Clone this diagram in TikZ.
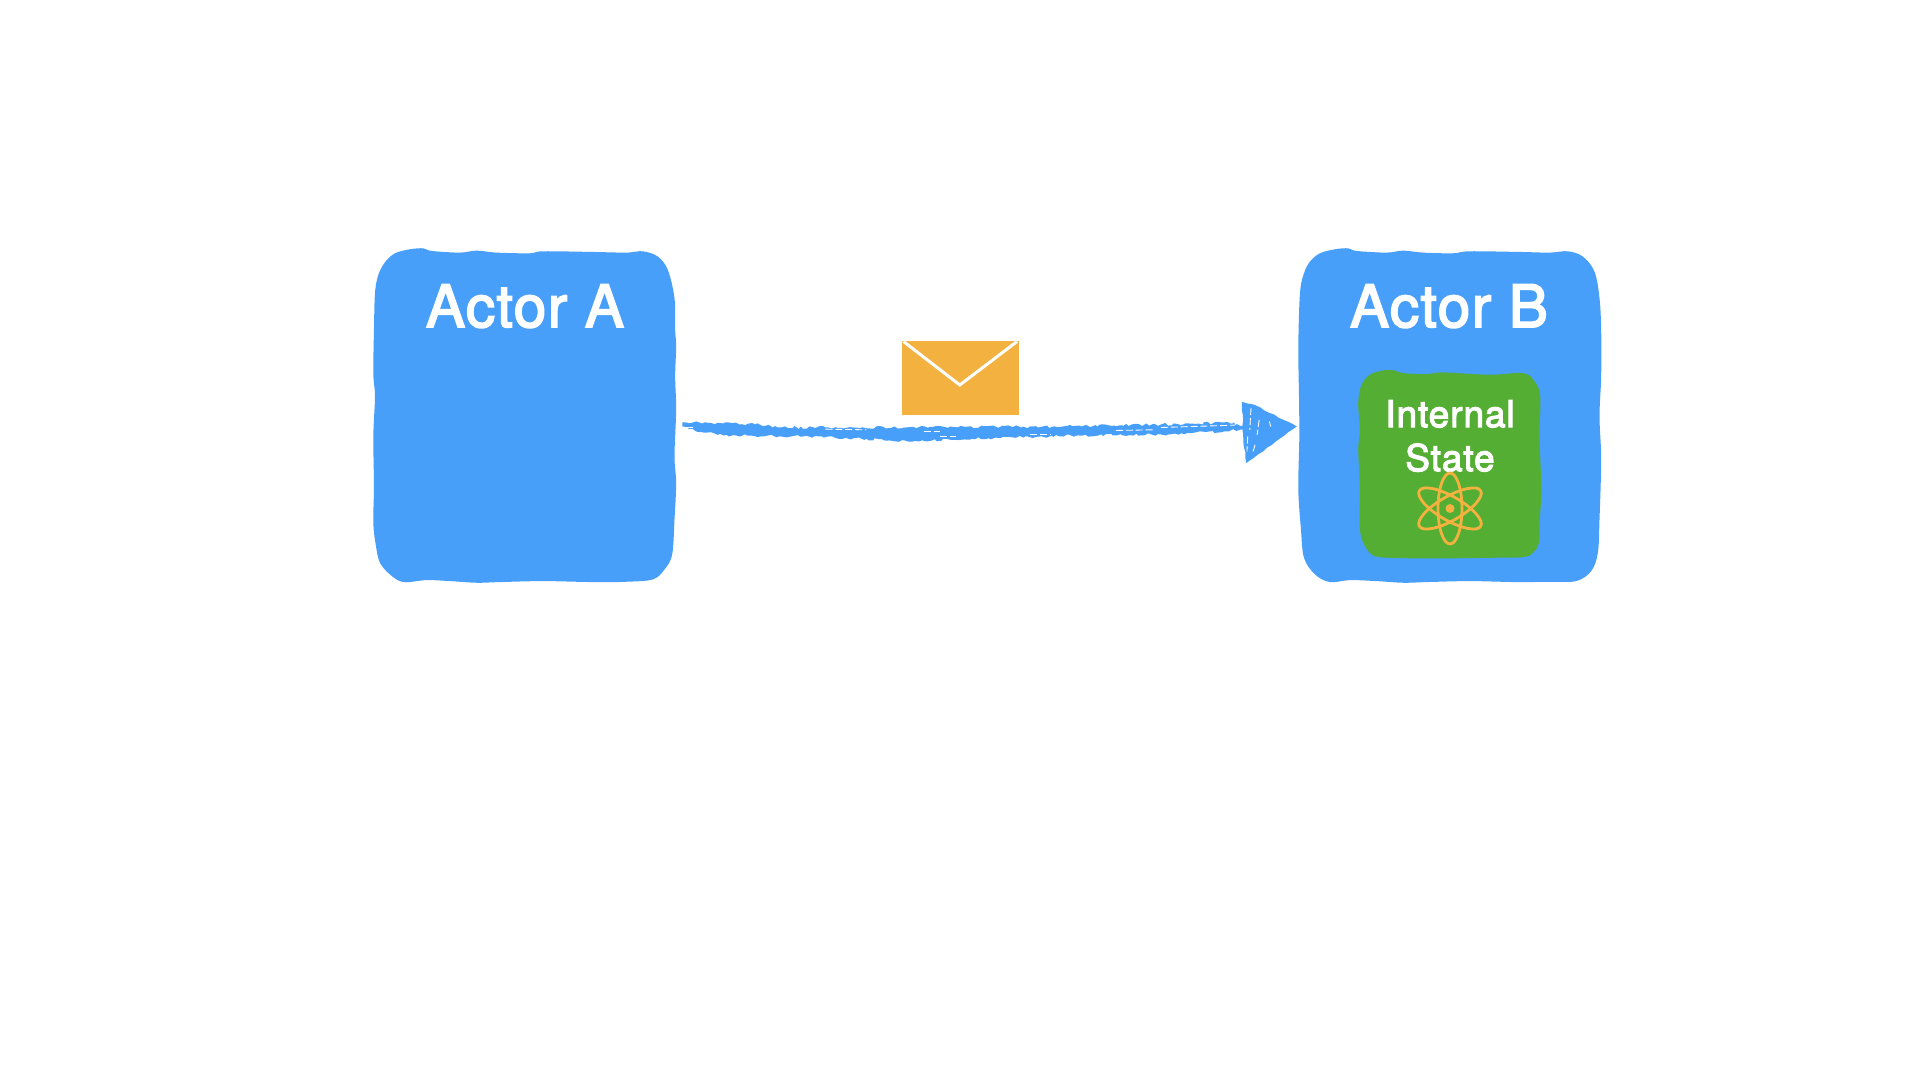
\documentclass[tikz,border=0pt]{standalone}
\usepackage{fontspec}
\usetikzlibrary{decorations.pathmorphing}
\newfontfamily\medfont[FakeBold=3,LetterSpace=2.6]{TeX Gyre Heros}
\definecolor{actorblue}{HTML}{489FF9}
\definecolor{stategreen}{HTML}{55AE34}
\definecolor{mailorange}{HTML}{F3B23F}
\tikzset{
  wobble/.style={smooth cycle,tension=0.55},
  zoomA/.style={shift={(360,230)},x=0.003333cm,y=-0.003333cm},
  zoomB/.style={shift={(1290,230)},x=0.003333cm,y=-0.003333cm},
  zoomM/.style={shift={(670,320)},x=0.004082cm,y=-0.003333cm},
  title/.style={inner sep=0pt,text=white,font=\medfont\fontsize{16.6pt}{20pt}\selectfont,anchor=base},
  statetext/.style={inner sep=0pt,text=white,align=center,font=\medfont\fontsize{10.5pt}{12.5pt}\selectfont},
  rough/.style={decorate,decoration={random steps,segment length=0.9pt,amplitude=0.4pt}},
  roughhead/.style={decorate,decoration={random steps,segment length=1.5pt,amplitude=0.15pt}},
  streak/.style={white,line width=0.25pt,dash pattern=on 2pt off 0.8pt},
  orbit/.style={draw=mailorange,line width=0.8pt}
}
\pgfmathsetseed{7}
\begin{document}
\begin{tikzpicture}[x=0.01cm,y=-0.01cm]
\useasboundingbox[fill=white] (0,0) rectangle (1920,1080);
% Actor A
\begin{scope}[zoomA]
\fill[actorblue] plot[wobble] coordinates {(105,70)(150,58)(190,55)(215,63)(300,68)(350,62)(410,68)(510,70)(550,64)(700,66)(800,68)(850,64)(895,80)(925,120)(945,205)(947,300)(950,350)(947,440)(950,540)(945,680)(950,760)(945,870)(938,975)(915,1020)(880,1050)(800,1057)(700,1058)(550,1055)(420,1058)(350,1060)(270,1055)(200,1052)(130,1058)(90,1035)(60,1000)(48,950)(40,880)(42,770)(40,620)(45,500)(40,430)(42,300)(45,190)(55,135)(75,97)};
\end{scope}
\node[title] (actorA) at (525,327) {Actor A};
% Actor B
\begin{scope}[zoomB]
\fill[actorblue] plot[wobble] coordinates {(90,70)(135,58)(175,55)(200,63)(290,68)(340,62)(400,68)(490,70)(540,64)(690,66)(780,68)(835,64)(880,80)(915,125)(930,205)(935,300)(935,440)(930,560)(935,690)(930,870)(925,970)(905,1025)(860,1055)(780,1057)(680,1058)(540,1055)(410,1058)(340,1060)(260,1055)(180,1052)(120,1058)(75,1035)(42,985)(33,900)(25,780)(28,620)(27,500)(25,350)(30,190)(42,130)(60,95)};
\fill[stategreen] plot[wobble] coordinates {(245,432)(300,420)(340,430)(410,433)(460,428)(600,435)(700,430)(735,455)(752,500)(750,620)(755,780)(750,880)(748,940)(730,970)(700,983)(600,985)(430,987)(300,985)(255,980)(228,955)(210,900)(210,770)(205,660)(210,600)(205,520)(215,465)};
\end{scope}
\node[title] (actorB) at (1449,327) {Actor B};
\node[statetext] (state) at (1450,436) {Internal\\State};
% Atom
\coordinate (atom) at (1450,508.5);
\draw[orbit] (atom) ellipse [x radius=12,y radius=35.5];
\draw[orbit,rotate around={60:(atom)}] (atom) ellipse [x radius=12,y radius=35.5];
\draw[orbit,rotate around={-60:(atom)}] (atom) ellipse [x radius=12,y radius=35.5];
\fill[mailorange] (atom) circle [radius=4.5];
% Envelope
\fill[mailorange] (901.5,341) rectangle (1018.5,415);
\draw[white,line width=0.85pt] (903.5,341.5) -- (959.8,385) -- (1017,341.5);
% Brush arrow
\begin{scope}[zoomM]
\fill[actorblue,rough] (30,308) -- (130,311) -- (240,315) -- (250,323) -- (380,323) -- (640,322) -- (960,320) -- (1200,314) -- (1380,308) -- (1380,316) -- (1410,320) -- (1410,330) -- (1200,344) -- (1000,347) -- (800,354) -- (580,365) -- (480,357) -- (300,349) -- (130,347) -- (60,332) -- (30,320) -- cycle;
\fill[actorblue,roughhead] (1398,246) -- (1430,256) -- (1532,320) -- (1408,430) -- (1401,350) -- cycle;
\draw[streak] (1090,332) -- (1180,330);
\draw[streak] (1200,323) -- (1380,316);
\draw[streak] (620,336) -- (660,336);
\draw[streak] (660,350) -- (700,350);
\draw[streak] (880,344) -- (930,344);
\draw[streak] (380,328) -- (480,330);
\draw[streak] (40,322) -- (60,322);
\draw[streak] (1420,265) -- (1417,330);
\draw[streak] (1412,350) -- (1410,395);
\draw[streak] (1440,300) -- (1435,345);
\draw[streak] (1465,305) -- (1468,320);
\draw[streak] (1430,375) -- (1425,395);
\end{scope}
\end{tikzpicture}
\end{document}
